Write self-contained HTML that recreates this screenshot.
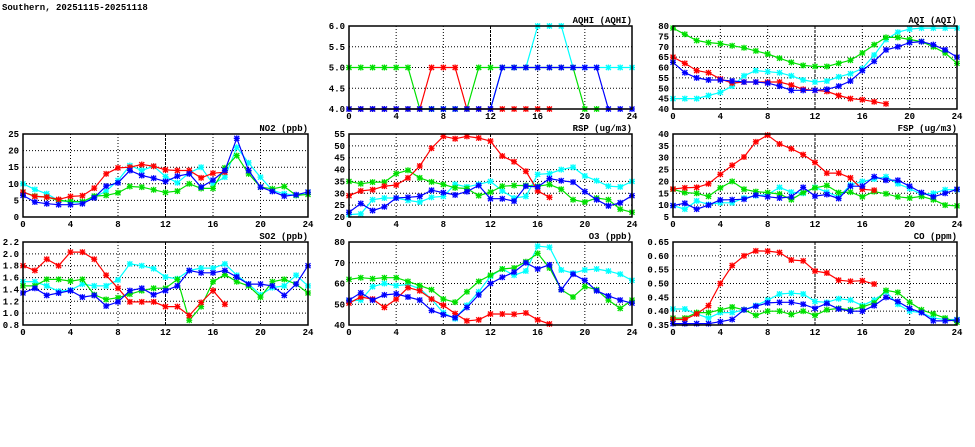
<!DOCTYPE html>
<html><head><meta charset="utf-8"><style>
body{margin:0;background:#fff;width:975px;height:447px;overflow:hidden}
svg{display:block}
text{font-family:"Liberation Mono",monospace;font-weight:bold;font-size:9px;fill:#000}
</style></head><body>
<svg id="c" width="975" height="447">
<text x="2" y="10">Southern, 20251115-20251118</text>
</svg>
<script>
const hours=[0,1,2,3,4,5,6,7,8,9,10,11,12,13,14,15,16,17,18,19,20,21,22,23,24];
const xTicks=[0,4,8,12,16,20,24];
const seriesColors=["#00ffff","#00e000","#ff0000","#0000ff"];
const seriesNames=["cyan","green","red","blue"];
// AQHI
const aqhiTicks=[4,4.5,5,5.5,6];
const aqhiC=[4,4,4,4,4,4,4,4,4,4,4,4,4,5,5,5,6,6,6,5,5,5,5,5,5];
const aqhiG=[5,5,5,5,5,5,4,4,4,4,4,5,5,5,5,5,5,5,5,5,4,4];
const aqhiR=[4,4,4,4,4,4,4,5,5,5,4,4,4,4,4,4,4,4];
const aqhiB=[4,4,4,4,4,4,4,4,4,4,4,4,4,5,5,5,5,5,5,5,5,5,4,4,4];
// AQI
const aqiTicks=[40,45,50,55,60,65,70,75,80];
const aqiC=[45,45,45,46.5,48,51,56,58.5,58,57.5,56,54,53,53.5,55.5,57,59.5,66,73.5,77,78.5,79,79,79,79];
const aqiG=[79,76,73,72,71.5,70.5,69.5,68,66.5,64.5,62.5,61,60.5,60.5,62,63.5,67,71,74.5,74.5,73.5,72.5,70,67,62];
const aqiR=[65,62,58.5,57.5,54.5,52.5,53,53,53,53,51.5,49.5,49,48.5,46.5,45,44.5,43.5,42.5];
const aqiB=[62.5,57.5,55,54,54,53.5,53,53,52.5,51,49,49,49,49.5,51,53.5,58.5,63,68.5,70,72,72.5,71,68.5,65];
// NO2
const no2Ticks=[0,5,10,15,20,25];
const no2C=[10,8.3,7,5,4.5,4.5,6,7.8,11,15.5,14,15.3,12.2,10.3,13.3,15,10,12,21,16.3,12,8,7,6.5,7.5];
const no2G=[7.5,6.3,6,5,4.7,4.6,6.3,6.5,7.3,9.2,9,8.2,7.4,7.8,10,8.6,8.6,14.8,18.5,13,9,8.5,9.2,6.5,6.8];
const no2R=[7.5,6.2,6,5.3,6.2,6.4,8.7,13,14.8,15,15.8,15.3,14.2,14,14,11.8,13.2,13.5];
const no2B=[6.5,4.5,4,3.7,3.7,4,5.8,9.3,10.3,14,12.5,11.7,10.7,12.3,13,9,11.1,14,23.7,14,9,7.7,6.3,6.7,7.5];
// RSP
const rspTicks=[20,25,30,35,40,45,50,55];
const rspC=[21,21.3,27.3,28,28,27,26.3,28.3,28.7,33.8,32.7,33.8,35,31,28,28.7,38,38.3,40,41,37.3,35.3,33,32.7,35];
const rspG=[35,34,34.7,34.7,38.3,39.7,36.5,34.8,33.7,32.3,32,29,30.5,33,33.3,33.3,33,33.7,31.7,27.3,26.3,28,27.3,23.3,22];
const rspR=[29,31,31.5,33,33.5,36.5,41.5,49,54,53,54,53.3,52,45.7,43.3,39.3,31,28.3];
const rspB=[22,25.7,22.7,24.3,28,28.3,28.7,31.3,30.3,29.3,30.7,33.3,27.7,27.7,26.7,33,32.7,36.2,35.3,34.7,30.7,27.3,24.7,26,29];
// FSP
const fspTicks=[5,10,15,20,25,30,35,40];
const fspC=[9.8,8.3,11.8,10.3,11,11,13,14,14.5,17.5,15.5,15,17.5,15.5,13.5,18.5,20,21,22,19,17,14.5,15,16.5,16.5];
const fspG=[16.7,15.3,15,13.7,17.3,20,16.7,15.7,15.3,14.7,12.3,15.3,17.3,18.3,15.3,15.5,13.5,15.7,14.8,13.5,13,13.7,12.3,10,9.7];
const fspR=[16.8,17.3,17.5,19,23,26.8,30.3,36.7,39.5,35.8,33.8,31.3,28,23.5,23.5,21.5,16.7,16.3];
const fspB=[9.8,10.8,8.3,10,12.2,12.3,12.5,14.2,13.5,13,13.5,17.5,13.8,14.5,12.8,18,18,22,20.5,20.5,18,15.3,13.5,15,16.7];
// SO2
const so2Ticks=[0.8,1.0,1.2,1.4,1.6,1.8,2.0,2.2];
const so2C=[1.53,1.53,1.46,1.37,1.39,1.49,1.46,1.46,1.56,1.83,1.8,1.75,1.61,1.58,1.72,1.76,1.76,1.83,1.64,1.49,1.31,1.43,1.46,1.64,1.46];
const so2G=[1.46,1.46,1.57,1.57,1.54,1.57,1.31,1.23,1.26,1.32,1.38,1.42,1.42,1.57,0.88,1.11,1.53,1.65,1.53,1.46,1.27,1.53,1.57,1.49,1.34];
const so2R=[1.8,1.72,1.91,1.8,2.03,2.03,1.91,1.64,1.42,1.19,1.19,1.19,1.11,1.11,0.96,1.18,1.38,1.15];
const so2B=[1.34,1.42,1.3,1.34,1.38,1.27,1.3,1.12,1.19,1.38,1.42,1.31,1.38,1.46,1.72,1.68,1.68,1.72,1.61,1.49,1.49,1.46,1.3,1.49,1.8];
// O3
const o3Ticks=[40,50,60,70,80];
const o3C=[51.5,52,58.5,60,59,59.5,57.5,52.5,46,43,49.5,56,63.5,67,64,66,78,77.5,66.5,65,66.5,67,66,64.5,61.5];
const o3G=[62,62.8,62.3,62.8,62.8,61,59,57,52.5,51,56,61,64,67,67.5,70.5,74.5,67.5,57,53.5,58.5,57,52,48,52];
const o3R=[50.5,53.5,52.5,48.5,52.5,58,56.5,52.5,49.5,45.5,42,42.5,45.3,45.3,45.2,45.8,42.5,40.5];
const o3B=[52,55.5,52,54.5,55,53.5,52,47,45,43.5,48.5,54.5,60,63,65.5,70,67,69,57,64.5,61.5,56.5,54,52,50.5];
// CO
const coTicks=[0.35,0.40,0.45,0.50,0.55,0.60,0.65];
const coC=[0.408,0.408,0.39,0.375,0.395,0.395,0.405,0.42,0.44,0.462,0.465,0.462,0.435,0.432,0.445,0.44,0.42,0.44,0.47,0.425,0.4,0.395,0.375,0.37,0.37];
const coG=[0.375,0.375,0.395,0.395,0.405,0.415,0.405,0.385,0.4,0.4,0.388,0.4,0.385,0.405,0.41,0.405,0.415,0.43,0.475,0.468,0.432,0.405,0.39,0.375,0.36];
const coR=[0.37,0.37,0.39,0.42,0.5,0.565,0.6,0.618,0.617,0.612,0.585,0.582,0.545,0.538,0.512,0.508,0.51,0.498];
const coB=[0.355,0.355,0.355,0.355,0.362,0.37,0.405,0.418,0.43,0.432,0.432,0.425,0.41,0.428,0.408,0.4,0.4,0.42,0.45,0.435,0.41,0.395,0.365,0.365,0.368];

const NS="http://www.w3.org/2000/svg";
const svg=document.getElementById('c');
function mk(tag,attrs,parent){const e=document.createElementNS(NS,tag);for(const k in attrs)e.setAttribute(k,attrs[k]);(parent||svg).appendChild(e);return e;}
const cols=[[23,308],[349,632],[673,957]];
const rows=[[26,109],[134,217],[242,325]];
const panels=[
 {id:"aqhi",title:"AQHI (AQHI)",c:1,r:0,ticks:aqhiTicks,dec:1,s:[aqhiC,aqhiG,aqhiR,aqhiB]},
 {id:"aqi",title:"AQI (AQI)",c:2,r:0,ticks:aqiTicks,dec:0,s:[aqiC,aqiG,aqiR,aqiB]},
 {id:"no2",title:"NO2 (ppb)",c:0,r:1,ticks:no2Ticks,dec:0,s:[no2C,no2G,no2R,no2B]},
 {id:"rsp",title:"RSP (ug/m3)",c:1,r:1,ticks:rspTicks,dec:0,s:[rspC,rspG,rspR,rspB]},
 {id:"fsp",title:"FSP (ug/m3)",c:2,r:1,ticks:fspTicks,dec:0,s:[fspC,fspG,fspR,fspB]},
 {id:"so2",title:"SO2 (ppb)",c:0,r:2,ticks:so2Ticks,dec:1,s:[so2C,so2G,so2R,so2B]},
 {id:"o3",title:"O3 (ppb)",c:1,r:2,ticks:o3Ticks,dec:0,s:[o3C,o3G,o3R,o3B]},
 {id:"co",title:"CO (ppm)",c:2,r:2,ticks:coTicks,dec:2,s:[coC,coG,coR,coB]}
];
panels.forEach(p=>{
 const [x0,x1]=cols[p.c],[y0,y1]=rows[p.r];
 const ymin=p.ticks[0],ymax=p.ticks[p.ticks.length-1];
 const X=h=>x0+(h-0)/(24-0)*(x1-x0);
 const Y=v=>y1-(v-ymin)/(ymax-ymin)*(y1-y0);
 const g=mk('g',{});
 
 
 const t=mk('text',{x:x1,y:y0-3,'text-anchor':'end'},g);t.textContent=p.title;
 
 
 p.ticks.forEach((v,i)=>{
  const y=Y(v);
  if(i>0&&i<p.ticks.length-1)mk('line',{x1:x0,x2:x1,y1:y,y2:y,stroke:'#000','stroke-width':1,'stroke-dasharray':'1,2'},g);
  const lt=mk('text',{x:x0-4,y:y+3,'text-anchor':'end'},g);lt.textContent=v.toFixed(p.dec);
  
  
 });
 xTicks.forEach((h,i)=>{
  const x=X(h);
  if(i>0&&i<xTicks.length-1)mk('line',{x1:x,x2:x,y1:y0,y2:y1,stroke:'#000','stroke-width':1,'stroke-dasharray':h===12?'3,1':'1,2'},g);
  const lt=mk('text',{x:x,y:y1+10,'text-anchor':'middle'},g);lt.textContent=h;
  
  
 });
 p.s.forEach((arr,si)=>{
  const col=seriesColors[si];
  const pts=arr.map((v,i)=>X(hours[i]).toFixed(1)+','+Y(v).toFixed(1)).join(' ');
  const pl=mk('polyline',{points:pts,fill:'none',stroke:col,'stroke-width':1.2},g);
  
  
  arr.forEach((v,i)=>{
   const cx=X(hours[i]),cy=Y(v),r=2.5;
   const m=mk('path',{d:`M${cx-r},${cy-r}L${cx+r},${cy+r}M${cx-r},${cy+r}L${cx+r},${cy-r}M${cx},${cy-r-0.5}L${cx},${cy+r+0.5}M${cx-r-0.5},${cy}L${cx+r+0.5},${cy}`,stroke:col,'stroke-width':1.3},g);
   
   
  });
 });
 mk('rect',{x:x0,y:y0,width:x1-x0,height:y1-y0,fill:'none',stroke:'#000','stroke-width':1.5},g);
});
</script>
</body></html>
